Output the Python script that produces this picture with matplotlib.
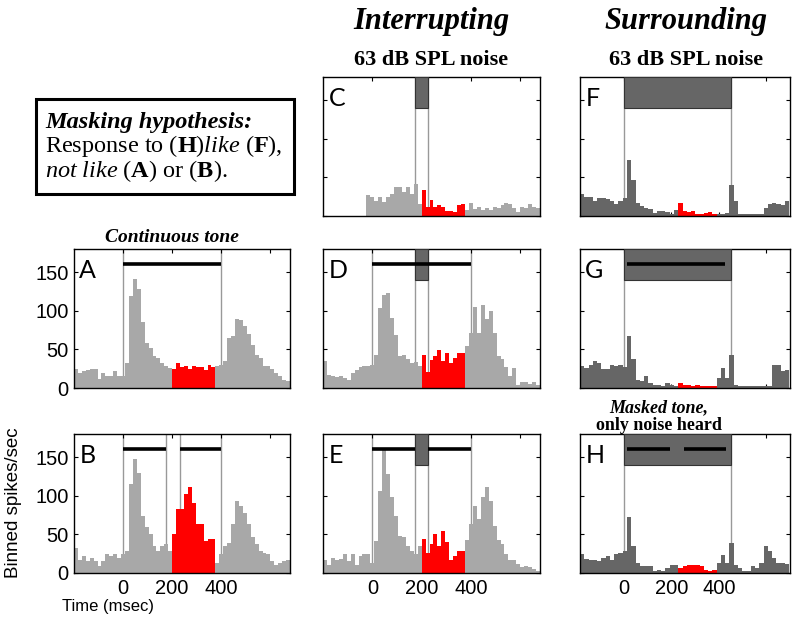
import matplotlib.pyplot as plt
from matplotlib.patches import Rectangle
import numpy as np

plt.rcParams['font.family'] = 'Liberation Sans'
plt.rcParams['mathtext.fontset'] = 'custom'
plt.rcParams['mathtext.rm'] = 'Liberation Serif'
plt.rcParams['mathtext.it'] = 'Liberation Serif:italic'
plt.rcParams['mathtext.bf'] = 'Liberation Serif:bold'

# histogram bins (msec)
bin_start_lm, bin_width_lm = -200, 16   # left and middle columns
bin_start_r, bin_width_r = -185, 18     # right column
win_lm = (200, 376)                     # analysis window (red)
win_r = (229, 391)

# binned spikes/sec
rate_A = [24, 20, 22, 23, 24, 24, 12, 20, 16, 16, 22, 15, 15, 33, 119, 141, 128, 85, 58, 52, 41, 39, 33, 28, 26,
          24, 32, 27, 28, 25, 28, 27, 27, 23, 30, 27,
          29, 30, 35, 65, 67, 89, 88, 80, 70, 56, 43, 39, 29, 28, 25, 20, 15, 11, 9]
rate_B = [33, 17, 22, 15, 20, 15, 9, 15, 24, 22, 24, 20, 24, 28, 115, 148, 130, 74, 59, 50, 35, 28, 35, 37, 28,
          50, 83, 83, 102, 111, 91, 63, 63, 41, 44, 44,
          13, 24, 35, 39, 63, 93, 87, 78, 63, 46, 37, 28, 26, 24, 15, 11, 13, 15, 17]
rate_C = [0, 0, 0, 0, 0, 0, 0, 0, 0, 0, 0, 27, 25, 20, 25, 18, 25, 29, 38, 38, 31, 38, 29, 42, 16,
          34, 12, 21, 12, 14, 12, 7, 7, 5, 14, 15,
          8, 17, 9, 12, 8, 10, 8, 12, 11, 14, 17, 16, 10, 5, 12, 10, 15, 12, 10]
rate_D = [35, 17, 15, 14, 16, 13, 11, 20, 23, 27, 28, 29, 30, 43, 104, 121, 123, 91, 69, 41, 43, 37, 32, 34, 29,
          43, 21, 36, 42, 49, 35, 45, 32, 39, 45, 45,
          54, 71, 105, 71, 107, 89, 100, 71, 41, 37, 27, 15, 26, 4, 8, 8, 5, 8, 4]
rate_E = [17, 11, 20, 17, 18, 24, 15, 24, 11, 22, 24, 25, 13, 41, 106, 161, 128, 98, 74, 48, 46, 35, 28, 24, 35,
          44, 26, 37, 50, 35, 54, 40, 17, 22, 28, 28,
          43, 63, 87, 70, 98, 111, 93, 61, 43, 37, 24, 17, 17, 12, 8, 9, 8, 5, 2]
rate_F = [29, 25, 24, 19, 23, 23, 22, 19, 16, 19, 23, 73, 46, 17, 13, 11, 9, 4, 6, 6, 5, 3, 8,
          17, 7, 5, 6, 3, 3, 4, 5, 3,
          3, 3, 4, 40, 19, 3, 3, 3, 3, 3, 3, 10, 16, 17, 16, 14, 19]
rate_G = [28, 26, 30, 35, 33, 24, 24, 30, 28, 30, 27, 67, 37, 11, 9, 16, 7, 4, 4, 3, 7, 4, 3,
          6, 4, 4, 3, 4, 3, 3, 3, 3,
          13, 26, 13, 43, 4, 3, 3, 3, 3, 3, 3, 3, 2, 30, 30, 22, 23]
rate_H = [24, 18, 17, 17, 15, 20, 22, 17, 24, 26, 28, 72, 35, 13, 9, 9, 9, 2, 4, 3, 7, 11, 11,
          7, 9, 11, 10, 11, 9, 4, 2, 4,
          13, 23, 13, 39, 11, 7, 2, 2, 9, 7, 13, 35, 28, 20, 13, 13, 12]

# stimulus timing (msec): tone segments, noise burst, marker lines
tone = {'A': [(0, 400)], 'B': [(0, 175), (230, 400)], 'C': [],
        'D': [(0, 400)], 'E': [(0, 175), (225, 400)],
        'F': [], 'G': [(15, 425)], 'H': [(15, 195), (255, 430)]}
noise = {'A': None, 'B': None, 'C': (175, 225), 'D': (175, 225), 'E': (175, 225),
         'F': (0, 450), 'G': (0, 450), 'H': (0, 450)}
marks = {'A': [0, 400], 'B': [0, 175, 230, 400], 'C': [175, 225],
         'D': [0, 175, 225, 400], 'E': [0, 175, 225, 400],
         'F': [0, 450], 'G': [0, 450], 'H': [0, 450]}
rates = {'A': rate_A, 'B': rate_B, 'C': rate_C, 'D': rate_D,
         'E': rate_E, 'F': rate_F, 'G': rate_G, 'H': rate_H}

W, H = 800, 633
fig = plt.figure(figsize=(W / 100, H / 100), dpi=100)

# axes boxes in pixels: left, right, top, bottom
col_px = {'l': (74, 290), 'm': (323, 540), 'r': (580, 790)}
row_px = [(77, 216), (249, 388), (434, 573)]
layout = {'C': ('m', 0), 'F': ('r', 0),
          'A': ('l', 1), 'D': ('m', 1), 'G': ('r', 1),
          'B': ('l', 2), 'E': ('m', 2), 'H': ('r', 2)}

light, dark, red = '#a8a8a8', '#666666', '#ff0000'

for name, (col, row) in layout.items():
    x0, x1 = col_px[col]
    y0, y1 = row_px[row]
    ax = fig.add_axes([x0 / W, 1 - y1 / H, (x1 - x0) / W, (y1 - y0) / H])

    vals = np.array(rates[name])
    if col == 'r':
        start, bw, win, base = bin_start_r, bin_width_r, win_r, dark
        ax.set_xlim(-185, 700)
    else:
        start, bw, win, base = bin_start_lm, bin_width_lm, win_lm, light
        ax.set_xlim(-200, 680)
    edges = start + bw * np.arange(len(vals))
    in_win = (edges >= win[0]) & (edges < win[1])
    colors = np.where(in_win, red, base)

    for m in marks[name]:
        ax.axvline(m, color='#999999', lw=1.0, zorder=1)
    ax.bar(edges, vals, width=bw, align='edge', color=colors, linewidth=0, zorder=2)
    if noise[name] is not None:
        n0, n1 = noise[name]
        ax.add_patch(Rectangle((n0, 140), n1 - n0, 40, facecolor=dark,
                               edgecolor='#333333', lw=0.8, zorder=3))
    for t0, t1 in tone[name]:
        ax.plot([t0, t1], [160, 160], color='black', lw=2.6, solid_capstyle='butt', zorder=4)

    ax.set_ylim(0, 180)
    ax.set_xticks([0, 200, 400, 600])
    ax.set_yticks([0, 50, 100, 150])
    ax.tick_params(direction='in', top=True, right=True, length=3, width=0.8,
                   labelsize=14.5, pad=4)
    if row == 2:
        ax.set_xticklabels(['0', '200', '400', ''])
    else:
        ax.set_xticklabels([])
    if col != 'l':
        ax.set_yticklabels([])
    for s in ax.spines.values():
        s.set_linewidth(1.0)

    ax.text(0.025, 0.93, name, transform=ax.transAxes, ha='left', va='top',
            fontsize=18, family='Lato', zorder=5)

serif = 'Liberation Serif'
fig.text(431 / W, 1 - 22 / H, 'Interrupting', family=serif, weight='bold', style='italic',
         fontsize=22, ha='center', va='center')
fig.text(686 / W, 1 - 22 / H, 'Surrounding', family=serif, weight='bold', style='italic',
         fontsize=22, ha='center', va='center')
fig.text(431 / W, 1 - 60 / H, '63 dB SPL noise', family=serif, weight='bold',
         fontsize=16, ha='center', va='center')
fig.text(686 / W, 1 - 60 / H, '63 dB SPL noise', family=serif, weight='bold',
         fontsize=16, ha='center', va='center')
fig.text(172 / W, 1 - 237 / H, 'Continuous tone', family=serif, weight='bold', style='italic',
         fontsize=14, ha='center', va='center')
fig.text(659 / W, 1 - 408 / H, 'Masked tone,', family=serif, weight='bold', style='italic',
         fontsize=13, ha='center', va='center')
fig.text(659 / W, 1 - 425 / H, 'only noise heard', family=serif, weight='bold',
         fontsize=13, ha='center', va='center')

# hypothesis box
fig.add_artist(Rectangle((36 / W, 1 - 194 / H), 258 / W, 95 / H, transform=fig.transFigure,
                         fill=False, lw=2.2, edgecolor='black'))
fig.text(45 / W, 1 - 122 / H, 'Masking hypothesis:', family=serif, weight='bold', style='italic',
         fontsize=17.5, ha='left', va='center')
fig.text(45 / W, 1 - 146 / H, r'Response to ($\mathbf{H}$)$\mathit{like}$ ($\mathbf{F}$),',
         family=serif, fontsize=17.5, ha='left', va='center')
fig.text(45 / W, 1 - 171 / H, r'$\mathit{not\ like}$ ($\mathbf{A}$) or ($\mathbf{B}$).',
         family=serif, fontsize=17.5, ha='left', va='center')

fig.text(14 / W, 1 - 503 / H, 'Binned spikes/sec', rotation=90, fontsize=13.5,
         ha='center', va='center')
fig.text(108 / W, 1 - 606 / H, 'Time (msec)', fontsize=12, ha='center', va='center')

fig.savefig('out.png', dpi=100)
